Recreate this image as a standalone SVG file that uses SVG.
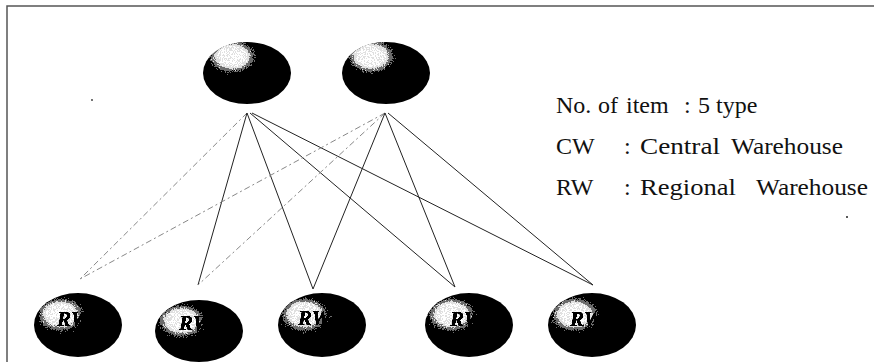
<svg xmlns="http://www.w3.org/2000/svg" width="874" height="362" viewBox="0 0 874 362">
  <style>
    .frame { fill: none; stroke: #555; stroke-width: 1.5; }
    .link { fill: none; stroke: #222; stroke-width: 1; }
    .faint { fill: none; stroke: #888; stroke-width: 1; stroke-dasharray: 6 3 2 3; }
    .ball { fill: url(#shine); }
    .ball-low { fill: url(#shine-low); }
    .node { filter: url(#grain); }
    .tag { font-family: "Liberation Serif", serif; font-style: italic; font-weight: bold; font-size: 21px; fill: #000; }
    .legend { font-family: "Liberation Serif", serif; font-size: 24px; fill: #111; }
  </style>
  <defs>
    <radialGradient id="shine" cx="0.33" cy="0.25" r="0.55" fx="0.33" fy="0.22">
      <stop offset="0" stop-color="#fff"/>
      <stop offset="0.3" stop-color="#fafafa"/>
      <stop offset="0.5" stop-color="#a0a0a0"/>
      <stop offset="0.68" stop-color="#1a1a1a"/>
      <stop offset="0.8" stop-color="#000"/>
      <stop offset="1" stop-color="#000"/>
    </radialGradient>
    <radialGradient id="shine-low" href="#shine" cx="0.3" cy="0.36" fx="0.3" fy="0.32"/>
    <!-- speckled, photocopied look for the shaded balls -->
    <filter id="grain" x="-5%" y="-5%" width="110%" height="110%">
      <feTurbulence type="fractalNoise" baseFrequency="0.9" numOctaves="2" seed="7" result="noise"/>
      <feColorMatrix in="noise" type="saturate" values="0" result="gnoise"/>
      <feComposite in="SourceGraphic" in2="gnoise" operator="arithmetic" k1="0" k2="1" k3="1.1" k4="-0.5" result="mix"/>
      <feComponentTransfer in="mix" result="thr">
        <feFuncR type="discrete" tableValues="0 0.15 0.75 1"/>
        <feFuncG type="discrete" tableValues="0 0.15 0.75 1"/>
        <feFuncB type="discrete" tableValues="0 0.15 0.75 1"/>
        <feFuncA type="linear" slope="0" intercept="1"/>
      </feComponentTransfer>
      <feComposite in="thr" in2="SourceGraphic" operator="in"/>
    </filter>
  </defs>

  <!-- frame (top and left edges) -->
  <path class="frame" d="M7,362 L7,6 L874,6"/>

  <!-- connectors: every central warehouse feeds every regional warehouse -->
  <g id="connectors">
    <line class="faint" x1="247" y1="113" x2="80" y2="279"/>
    <line class="link" x1="247" y1="113" x2="198" y2="285"/>
    <line class="link" x1="247" y1="113" x2="313" y2="289"/>
    <line class="link" x1="250" y1="113" x2="455" y2="287"/>
    <line class="link" x1="252" y1="113" x2="593" y2="285"/>
    <line class="faint" x1="385" y1="113" x2="80" y2="279"/>
    <line class="faint" x1="385" y1="113" x2="198" y2="285"/>
    <line class="link" x1="385" y1="113" x2="313" y2="289"/>
    <line class="link" x1="385" y1="113" x2="455" y2="287"/>
    <line class="link" x1="388" y1="113" x2="593" y2="285"/>
  </g>

  <!-- central warehouses -->
  <g id="cw1" class="node">
    <ellipse class="ball" cx="247" cy="73" rx="44" ry="31"/>
  </g>
  <g id="cw2" class="node">
    <ellipse class="ball" cx="386" cy="73" rx="44" ry="31"/>
  </g>

  <!-- regional warehouses -->
  <g id="rw1" class="node">
    <ellipse class="ball-low" cx="78" cy="325" rx="44" ry="32"/>
    <text class="tag" x="57" y="326">RW</text>
  </g>
  <g id="rw2" class="node">
    <ellipse class="ball-low" cx="199" cy="331" rx="44" ry="31"/>
    <text class="tag" x="179" y="330">RW</text>
  </g>
  <g id="rw3" class="node">
    <ellipse class="ball-low" cx="322" cy="325" rx="44" ry="32"/>
    <text class="tag" x="298" y="325">RW</text>
  </g>
  <g id="rw4" class="node">
    <ellipse class="ball-low" cx="469" cy="325" rx="44" ry="32"/>
    <text class="tag" x="450" y="326">RW</text>
  </g>
  <g id="rw5" class="node">
    <ellipse class="ball-low" cx="592" cy="325" rx="44" ry="32"/>
    <text class="tag" x="570" y="326">RW</text>
  </g>

  <!-- legend -->
  <g id="legend" class="legend">
    <text x="556" y="113">No.<tspan x="598">of</tspan><tspan x="626">item</tspan><tspan x="684">:</tspan><tspan x="698">5</tspan><tspan x="716">type</tspan></text>
    <text x="556" y="154">CW<tspan x="624">:</tspan><tspan x="640" textLength="80" lengthAdjust="spacingAndGlyphs">Central</tspan><tspan x="731" textLength="112" lengthAdjust="spacingAndGlyphs">Warehouse</tspan></text>
    <text x="556" y="195">RW<tspan x="624">:</tspan><tspan x="640" textLength="96" lengthAdjust="spacingAndGlyphs">Regional</tspan><tspan x="756" textLength="112" lengthAdjust="spacingAndGlyphs">Warehouse</tspan></text>
  </g>

  <!-- specks -->
  <circle cx="92" cy="100" r="0.9" fill="#333"/>
  <circle cx="847" cy="217" r="1" fill="#222"/>
</svg>
